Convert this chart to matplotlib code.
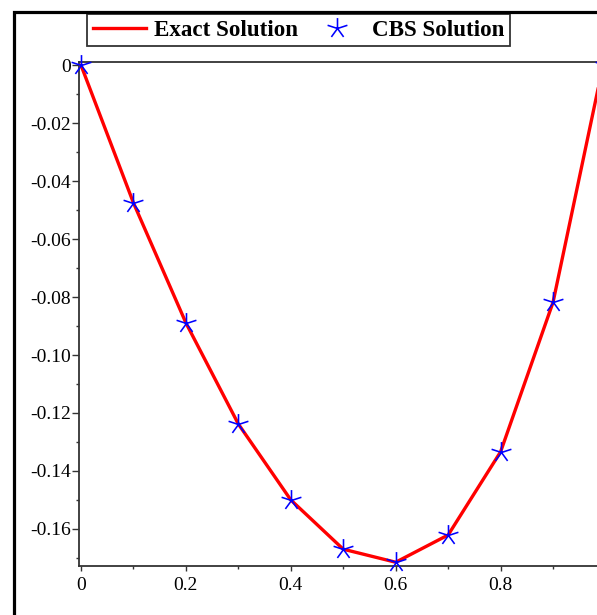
import matplotlib
matplotlib.use("Agg")
import matplotlib.pyplot as plt
from matplotlib.path import Path
from matplotlib.patches import Rectangle
from matplotlib.ticker import FixedLocator, FuncFormatter
import numpy as np

# ---- data ----
x_vals = [0.0, 0.1, 0.2, 0.3, 0.4, 0.5, 0.6, 0.7, 0.8, 0.9, 1.0]
exact_vals = [0.0, -0.0475, -0.0889, -0.1238, -0.1500, -0.1670, -0.1715,
              -0.1621, -0.1334, -0.0818, 0.004]
cbs_vals = [0.0, -0.0475, -0.0889, -0.1238, -0.1500, -0.1670, -0.1715,
            -0.1621, -0.1334, -0.0818, 0.0]
x_major = [0.0, 0.2, 0.4, 0.6, 0.8]
x_minor = [0.1, 0.3, 0.5, 0.7, 0.9]
y_major = [0.0, -0.02, -0.04, -0.06, -0.08, -0.10, -0.12, -0.14, -0.16]
y_minor = [-0.01, -0.03, -0.05, -0.07, -0.09, -0.11, -0.13, -0.15, -0.17]
legend_labels = ["Exact Solution", "CBS Solution"]

W, H = 597, 615
fig = plt.figure(figsize=(W / 100, H / 100), dpi=100)
fig.patch.set_facecolor("white")

# axes placement (pixels)
ax_left, ax_top, ax_bottom = 79, 61.7, 566
xlim = (-0.0038, 1.0)
ylim = (-0.1728, 0.0012)
px_per_x = 524.5
ax_w = (xlim[1] - xlim[0]) * px_per_x
ax = fig.add_axes([ax_left / W, (H - ax_bottom) / H, ax_w / W, (ax_bottom - ax_top) / H])
ax.set_xlim(*xlim)
ax.set_ylim(*ylim)

# 5-spoke asterisk marker
angs = np.deg2rad([90, 162, 234, 306, 18])
verts, codes = [], []
for a in angs:
    verts += [(0, 0), (np.cos(a), np.sin(a))]
    codes += [Path.MOVETO, Path.LINETO]
star = Path(verts, codes)

ax.plot(x_vals, exact_vals, color="#ff0000", lw=2.4, zorder=3,
        label=legend_labels[0], solid_joinstyle="miter")
ax.plot(x_vals, cbs_vals, linestyle="none", marker=star, markersize=15,
        markeredgewidth=1.15, markeredgecolor="#0000ff", color="#0000ff",
        zorder=4, clip_on=False, label=legend_labels[1])

spine_col = "#333333"
for s in ["left", "bottom", "top"]:
    ax.spines[s].set_color(spine_col)
    ax.spines[s].set_linewidth(1.3)
ax.spines["right"].set_visible(False)

ax.xaxis.set_major_locator(FixedLocator(x_major))
ax.xaxis.set_minor_locator(FixedLocator(x_minor))
ax.yaxis.set_major_locator(FixedLocator(y_major))
ax.yaxis.set_minor_locator(FixedLocator(y_minor))

ax.xaxis.set_major_formatter(FuncFormatter(lambda v, p: "0" if abs(v) < 1e-9 else f"{v:g}"))
ax.yaxis.set_major_formatter(FuncFormatter(lambda v, p: "0" if abs(v) < 1e-9 else f"{v:.2f}"))

ax.tick_params(axis="x", which="major", direction="out", length=3.6, width=1.0,
               color=spine_col, pad=4, top=False)
ax.tick_params(axis="x", which="minor", direction="out", length=1.8, width=1.0,
               color=spine_col, top=False)
ax.tick_params(axis="y", which="major", direction="out", length=5, width=1.0,
               color=spine_col, pad=0.5, right=False)
ax.tick_params(axis="y", which="minor", direction="out", length=2.2, width=1.0,
               color=spine_col, right=False)
for lab in ax.get_xticklabels() + ax.get_yticklabels():
    lab.set_fontfamily("Liberation Serif")
    lab.set_fontsize(14)
    lab.set_color("black")

leg = ax.legend(loc="upper left", bbox_to_anchor=(87.3 / W, 1 - 13.7 / H),
                bbox_transform=fig.transFigure, ncol=2, numpoints=1,
                prop=dict(family="Liberation Serif", weight="bold", size=16.6),
                frameon=True, fancybox=False, edgecolor="black",
                borderpad=0.25, handlelength=2.3, handletextpad=0.35,
                columnspacing=0.55, borderaxespad=0)
leg.get_frame().set_linewidth(1.3)
leg.set_zorder(10)

# outer frame (extends past the cropped right/bottom edges)
fig.add_artist(Rectangle((13.5 / W, -0.1), 1.2, 1 - 12 / H + 0.1,
                         transform=fig.transFigure, fill=False,
                         edgecolor="black", linewidth=2.3, zorder=20))

fig.savefig("out.png", dpi=100)
